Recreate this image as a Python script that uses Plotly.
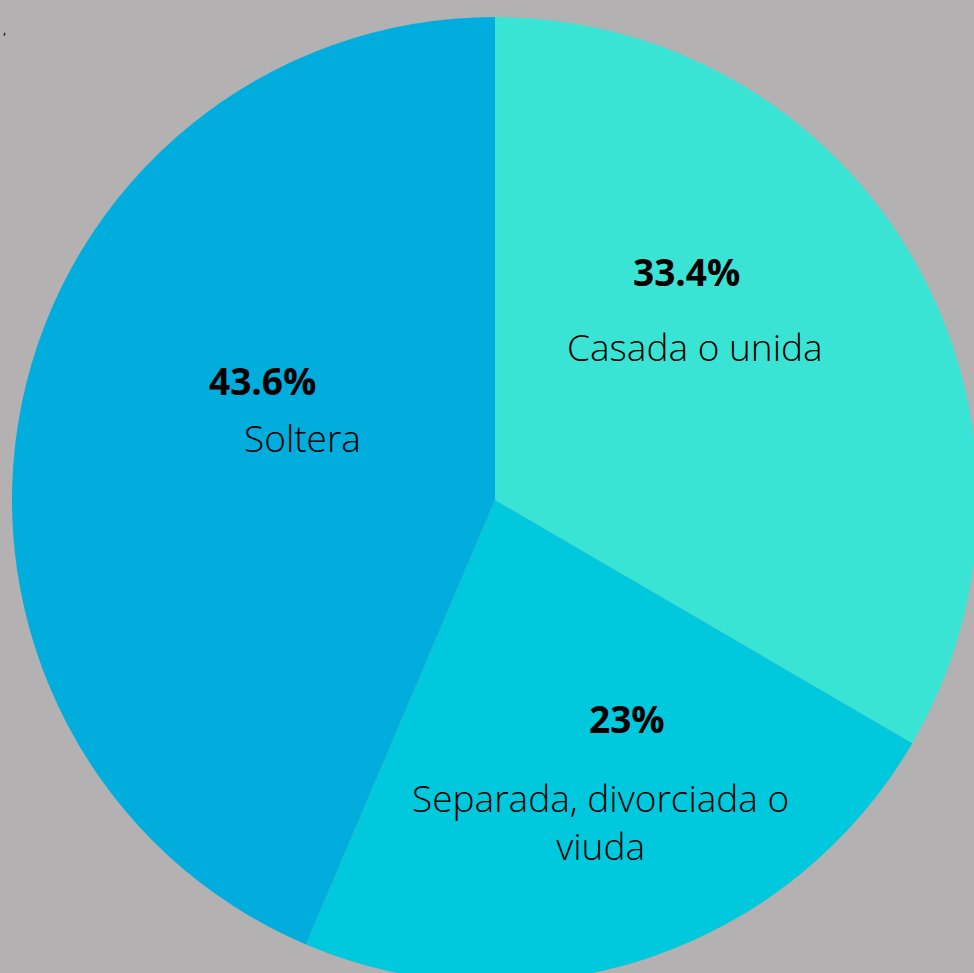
import plotly.graph_objects as go

categories = ["Casada o unida", "Separada, divorciada o<br>viuda", "Soltera"]
values = [33.4, 23, 43.6]
pct_labels = ["33.4%", "23%", "43.6%"]
colors = ["#3AE4D5", "#00C9DD", "#00ADDC"]

W, H = 990, 990
CX, CY, R = 495, 500, 483
fig = go.Figure(go.Pie(
    labels=categories, values=values, sort=False, direction="clockwise", rotation=0,
    marker=dict(colors=colors, line=dict(width=0)), textinfo="none", hoverinfo="label+percent",
    domain=dict(x=[(CX - R) / W, (CX + R) / W], y=[1 - (CY + R) / H, 1 - (CY - R) / H]),
))

# label positions (pixel centers)
pct_pos = [(686, 271), (627, 718), (262, 380)]
cat_pos = [(695, 346), (600, 821), (302, 437)]
ann = []
for t, (x, y) in zip(pct_labels, pct_pos):
    ann.append(dict(text=t, x=x / W, y=1 - y / H, xref="paper", yref="paper", showarrow=False,
                    xanchor="center", yanchor="middle",
                    font=dict(family="Open Sans", size=37, color="#000000", weight=700)))
for t, (x, y) in zip(categories, cat_pos):
    ann.append(dict(text=t, x=x / W, y=1 - y / H, xref="paper", yref="paper", showarrow=False,
                    xanchor="center", yanchor="middle",
                    font=dict(family="Open Sans", size=37, color="#000000", weight=300)))
ann.append(dict(text=",", x=4 / W, y=1 - 29 / H, xref="paper", yref="paper", showarrow=False,
                xanchor="center", yanchor="middle",
                font=dict(family="Open Sans", size=13, color="#000000")))

fig.update_layout(
    width=W, height=H, margin=dict(l=0, r=0, t=0, b=0), showlegend=False,
    paper_bgcolor="#B3B1B2", plot_bgcolor="#B3B1B2", annotations=ann,
)
fig.write_html("out.html", config={"displayModeBar": False},
               post_script="document.body.style.margin='0';document.body.style.overflow='hidden';document.documentElement.style.overflow='hidden';")
